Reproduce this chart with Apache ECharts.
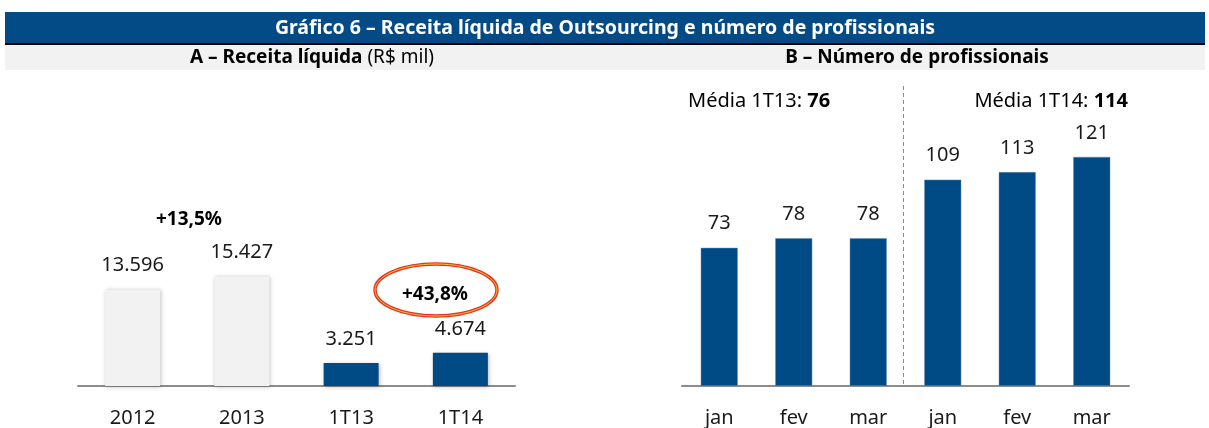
<!DOCTYPE html>
<html>
<head>
<meta charset="utf-8">
<script src="https://cdn.jsdelivr.net/npm/echarts@6/dist/echarts.min.js"></script>
<style>
  html, body { margin: 0; padding: 0; background: #fff; }
  #chart { width: 1209px; height: 428px; }
</style>
</head>
<body>
<div id="chart"></div>
<script>
// A – Receita líquida (R$ mil)
const revenueCategories = ['2012', '2013', '1T13', '1T14']
const revenueValues = [13596, 15427, 3251, 4674]
const revenueLabels = ['13.596', '15.427', '3.251', '4.674']

// B – Número de profissionais
const staffCategories = ['jan', 'fev', 'mar', 'jan ', 'fev ', 'mar ']
const staffValues = [73, 78, 78, 109, 113, 121]

const blue = '#004a86'
const font = 'Noto Sans'

const chart = echarts.init(document.getElementById('chart'))

const catAxis = {
  type: 'category',
  axisTick: { show: false },
  axisLine: { lineStyle: { color: '#8c8c8c', width: 2 } },
  axisLabel: {
    color: '#1a1a1a',
    fontFamily: font,
    fontSize: 20,
    margin: 22,
    formatter: v => v.trim()
  }
}

const option = {
  animation: false,
  graphic: [
    { type: 'rect', shape: { x: 5, y: 12, width: 1200, height: 31 }, style: { fill: '#034b87' } },
    { type: 'rect', shape: { x: 5, y: 43, width: 1200, height: 2 }, style: { fill: '#000' } },
    { type: 'rect', shape: { x: 5, y: 45, width: 1200, height: 25 }, style: { fill: '#f2f2f2' } },
    {
      type: 'text', x: 605, y: 28,
      style: {
        text: 'Gráfico 6 – Receita líquida de Outsourcing e número de profissionais',
        fill: '#fff', font: 'bold 19.5px "Noto Sans"', align: 'center', verticalAlign: 'middle'
      }
    },
    {
      type: 'text', x: 312, y: 58,
      style: {
        text: '{b|A – Receita líquida}{n| (R$ mil)}',
        align: 'center', verticalAlign: 'middle',
        rich: {
          b: { font: 'bold 19px "Noto Sans"', fill: '#000' },
          n: { font: '19px "Noto Sans"', fill: '#000' }
        }
      }
    },
    {
      type: 'text', x: 917, y: 58,
      style: {
        text: 'B – Número de profissionais',
        fill: '#000', font: 'bold 19px "Noto Sans"', align: 'center', verticalAlign: 'middle'
      }
    },
    {
      type: 'text', x: 189, y: 220,
      style: { text: '+13,5%', fill: '#000', font: 'bold 19px "Noto Sans"', align: 'center', verticalAlign: 'middle' }
    },
    {
      type: 'ellipse', shape: { cx: 436, cy: 290, rx: 61, ry: 26 },
      style: { fill: 'none', stroke: '#e5331f', lineWidth: 3.5 }
    },
    {
      type: 'ellipse', shape: { cx: 436, cy: 290, rx: 61, ry: 26 },
      style: { fill: 'none', stroke: '#f8c13c', lineWidth: 1 }
    },
    {
      type: 'text', x: 435, y: 295,
      style: { text: '+43,8%', fill: '#000', font: 'bold 19px "Noto Sans"', align: 'center', verticalAlign: 'middle' }
    },
    {
      type: 'text', x: 688, y: 101,
      style: {
        text: '{n|Média 1T13: }{b|76}', verticalAlign: 'middle',
        rich: { n: { font: '20px "Noto Sans"', fill: '#000' }, b: { font: 'bold 20px "Noto Sans"', fill: '#000' } }
      }
    },
    {
      type: 'text', x: 1128, y: 101,
      style: {
        text: '{n|Média 1T14: }{b|114}', align: 'right', verticalAlign: 'middle',
        rich: { n: { font: '20px "Noto Sans"', fill: '#000' }, b: { font: 'bold 20px "Noto Sans"', fill: '#000' } }
      }
    },
    {
      type: 'line', shape: { x1: 903.5, y1: 86, x2: 903.5, y2: 386 },
      style: { stroke: '#8c8c8c', lineWidth: 1, lineDash: [4, 3] }
    }
  ],
  grid: [
    { left: 78, width: 437, top: 102, bottom: 42 },
    { left: 682, width: 447, top: 102, bottom: 41 }
  ],
  xAxis: [
    Object.assign({}, catAxis, { gridIndex: 0, data: revenueCategories }),
    Object.assign({}, catAxis, { gridIndex: 1, data: staffCategories })
  ],
  yAxis: [
    { type: 'value', gridIndex: 0, min: 0, max: 40000, show: false, splitLine: { show: false } },
    { type: 'value', gridIndex: 1, min: 0, max: 150, show: false, splitLine: { show: false } }
  ],
  series: [
    {
      type: 'bar',
      xAxisIndex: 0,
      yAxisIndex: 0,
      barWidth: 55,
      data: revenueValues.map((v, i) => ({
        value: v,
        itemStyle: i < 2
          ? { color: '#f2f2f2', shadowColor: 'rgba(0,0,0,0.25)', shadowBlur: 4, shadowOffsetX: 1, shadowOffsetY: 1 }
          : { color: blue, shadowColor: 'rgba(0,0,0,0.25)', shadowBlur: 4, shadowOffsetX: 1, shadowOffsetY: 1 }
      })),
      label: {
        show: true,
        position: 'top',
        distance: 14,
        color: '#1a1a1a',
        fontFamily: font,
        fontSize: 20,
        formatter: p => revenueLabels[p.dataIndex]
      }
    },
    {
      type: 'bar',
      xAxisIndex: 1,
      yAxisIndex: 1,
      barWidth: 37,
      data: staffValues,
      itemStyle: { color: blue, borderColor: '#6f8fb3', borderWidth: 0.5 },
      label: {
        show: true,
        position: 'top',
        distance: 14,
        color: '#1a1a1a',
        fontFamily: font,
        fontSize: 20
      }
    }
  ]
}

chart.setOption(option)
</script>
</body>
</html>
